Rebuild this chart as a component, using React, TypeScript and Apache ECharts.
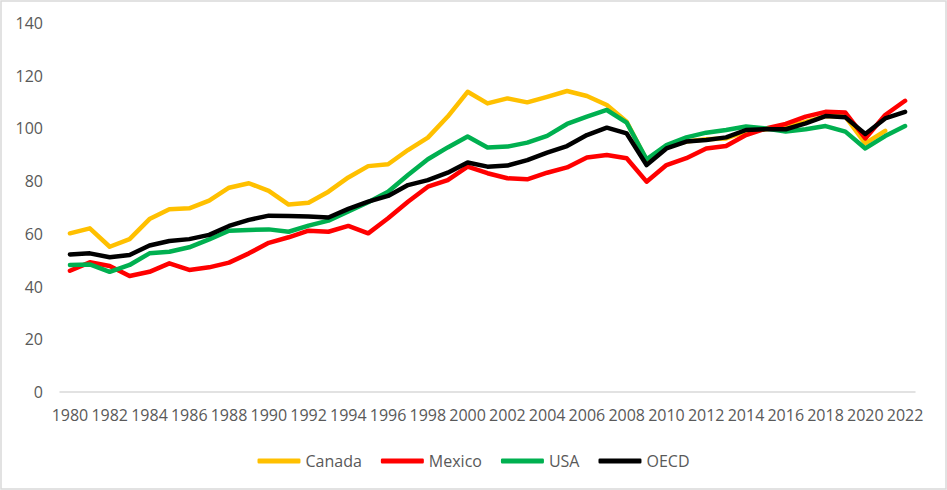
import React, { useEffect, useRef } from "react";
import * as echarts from "echarts";

const years: string[] = [];
for (let y = 1980; y <= 2022; y++) years.push(String(y));

const canada = [60.2, 62.1, 55.1, 58.0, 65.6, 69.3, 69.7, 72.6, 77.5, 79.2, 76.3, 71.1, 71.8, 76.0, 81.4, 85.7, 86.4, 91.8, 96.5, 104.5, 113.9, 109.5, 111.4, 109.9, 112.0, 114.2, 112.3, 108.9, 102.5, 88.0, 93.1, 95.0, 95.9, 96.2, 98.8, 99.7, 100.7, 102.5, 104.7, 104.5, 94.3, 99.1, null];
const mexico = [46.0, 49.2, 47.8, 44.0, 45.6, 48.8, 46.3, 47.3, 49.1, 52.6, 56.6, 58.7, 61.2, 60.8, 63.0, 60.2, 65.9, 72.2, 77.9, 80.4, 85.5, 83.0, 81.1, 80.7, 83.2, 85.2, 89.0, 89.9, 88.7, 79.8, 86.1, 88.7, 92.4, 93.3, 97.5, 100.0, 101.7, 104.5, 106.3, 106.0, 96.2, 105.1, 110.5];
const usa = [48.2, 48.4, 45.6, 48.2, 52.6, 53.2, 54.9, 57.9, 61.2, 61.5, 61.7, 60.8, 63.1, 65.0, 68.5, 72.0, 76.0, 82.3, 88.3, 92.8, 96.9, 92.8, 93.1, 94.6, 97.2, 101.7, 104.5, 107.0, 102.2, 88.3, 93.7, 96.6, 98.4, 99.4, 100.7, 100.0, 98.8, 99.7, 100.9, 98.8, 92.4, 97.1, 100.9];
const oecd = [52.2, 52.6, 51.1, 52.0, 55.6, 57.3, 58.0, 59.6, 63.0, 65.3, 66.9, 66.8, 66.6, 66.2, 69.5, 72.2, 74.4, 78.5, 80.4, 83.2, 87.1, 85.5, 85.9, 88.0, 90.8, 93.3, 97.5, 100.3, 98.1, 86.1, 92.4, 95.0, 95.6, 96.6, 99.4, 99.7, 99.7, 101.9, 104.7, 104.2, 97.9, 103.8, 106.3];

const seriesNames = ["Canada", "Mexico", "USA", "OECD"];
const seriesColors = ["#FFC000", "#FF0000", "#00B050", "#000000"];
const seriesData = [canada, mexico, usa, oecd];

const FONT = "'Open Sans', sans-serif";

export default function App() {
  const ref = useRef<HTMLDivElement>(null);
  useEffect(() => {
    if (!ref.current) return;
    const chart = echarts.init(ref.current, undefined, { renderer: "svg" });
    chart.setOption({
      animation: false,
      backgroundColor: "#ffffff",
      graphic: [
        {
          type: "rect",
          shape: { x: 1, y: 1, width: 945, height: 488 },
          style: { fill: "none", stroke: "#d9d9d9", lineWidth: 1.5 },
          silent: true,
        },
      ],
      grid: { left: 60, right: 32, top: 23, bottom: 98, containLabel: false },
      legend: {
        data: seriesNames,
        left: "center",
        top: 448,
        itemWidth: 43,
        itemHeight: 5,
        itemGap: 19,
        icon: "roundRect",
        textStyle: { fontFamily: FONT, fontSize: 16, color: "#595959" },
      },
      xAxis: {
        type: "category",
        data: years,
        boundaryGap: true,
        axisLine: { show: true, lineStyle: { color: "#d9d9d9", width: 1.5 } },
        axisTick: { show: false },
        axisLabel: {
          interval: 1,
          margin: 15,
          fontFamily: FONT,
          fontSize: 16,
          color: "#595959",
        },
        splitLine: { show: false },
      },
      yAxis: {
        type: "value",
        min: 0,
        max: 140,
        interval: 20,
        axisLine: { show: false },
        axisTick: { show: false },
        splitLine: { show: false },
        axisLabel: {
          margin: 17,
          fontFamily: FONT,
          fontSize: 16,
          color: "#595959",
        },
      },
      series: seriesNames.map((name, i) => ({
        name,
        type: "line",
        data: seriesData[i],
        symbol: "none",
        showSymbol: false,
        connectNulls: false,
        itemStyle: { color: seriesColors[i] },
        lineStyle: {
          color: seriesColors[i],
          width: 4.5,
          cap: "round",
          join: "round",
        },
      })),
    });
    return () => chart.dispose();
  }, []);
  return (
    <div
      ref={ref}
      style={{ position: "fixed", left: 0, top: 0, width: 947, height: 490 }}
    />
  );
}
